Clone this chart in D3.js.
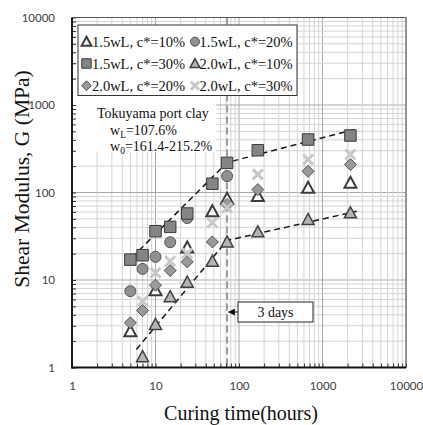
<!DOCTYPE html>
<html>
<head>
<meta charset="utf-8">
<script src="https://cdn.jsdelivr.net/npm/d3@7/dist/d3.min.js"></script>
<style>
  html, body { margin: 0; padding: 0; background: #fff; }
  svg { display: block; }
</style>
</head>
<body>
<svg id="chart" width="423" height="425"></svg>
<script>
// Curing times (hours) at which specimens were tested
const hours = [5, 7, 10, 15, 24, 48, 72, 168, 672, 2160];

// Shear modulus G (MPa) for each mix; null = not tested
const g15wL10 = [2.6, null, 7.65, null, 23.5, 61, 85, 91, 113, 129];
const g15wL20 = [7.45, 13.4, 18.4, 27.0, 51, null, 154, null, null, null];
const g15wL30 = [17.1, 19.2, 36.1, 40.5, 57.5, 126, 218, 304, 403, 448];
const g20wL10 = [null, 1.33, 3.1, 6.43, 9.44, 16.4, 27.2, 35.5, 49.1, 58.6];
const g20wL20 = [3.24, 4.48, 8.73, 12.8, 16.1, 27.2, 73, 108, 175, 209];
const g20wL30 = [null, 5.72, 12.1, 16.4, 20.1, 45.1, 67, 161, 238, 272];

const seriesNames = ["1.5wL, c*=10%", "1.5wL, c*=20%", "1.5wL, c*=30%",
                     "2.0wL, c*=10%", "2.0wL, c*=20%", "2.0wL, c*=30%"];

// Trend lines (bilinear in log-log, break at 3 days)
const upperTrendT = [4.3, 72, 2500];
const upperTrendG = [15.0, 220, 530];
const lowerTrendT = [5.9, 72, 2570];
const lowerTrendG = [1.61, 28.3, 61];

const markLineHours = 72;
const tickValues = [1, 10, 100, 1000, 10000];

const svg = d3.select("#chart");
const L = 72, R = 406, T = 17.5, B = 367.5;

const x = d3.scaleLog().domain([1, 10000]).range([L, R]);
const y = d3.scaleLog().domain([1, 10000]).range([B, T]);

// all 1..9 x 10^n positions
const minorVals = [];
for (let d = 0; d < 4; d++) for (let k = 1; k <= 9; k++) minorVals.push(k * Math.pow(10, d));
minorVals.push(10000);

// grid
const grid = svg.append("g");
minorVals.forEach(v => {
  const major = tickValues.includes(v);
  grid.append("line")
    .attr("x1", x(v)).attr("x2", x(v)).attr("y1", T).attr("y2", B)
    .attr("stroke", major ? "#a8a8a8" : "#d4d4d4").attr("stroke-width", 1);
  grid.append("line")
    .attr("y1", y(v)).attr("y2", y(v)).attr("x1", L).attr("x2", R)
    .attr("stroke", major ? "#a8a8a8" : "#d4d4d4").attr("stroke-width", 1);
});

// backing for the clay description
svg.append("rect").attr("x", L + 1).attr("y", 96).attr("width", 143).attr("height", 56)
  .attr("fill", "#fff");

// 3-day marker line
svg.append("line")
  .attr("x1", x(markLineHours)).attr("x2", x(markLineHours))
  .attr("y1", T).attr("y2", B)
  .attr("stroke", "#8a8a8a").attr("stroke-width", 1.6)
  .attr("stroke-dasharray", "7,4");

// trend lines
const line = d3.line().x(d => x(d[0])).y(d => y(d[1]));
[[upperTrendT, upperTrendG], [lowerTrendT, lowerTrendG]].forEach(([ts, gs]) => {
  svg.append("path")
    .attr("d", line(ts.map((t, i) => [t, gs[i]])))
    .attr("fill", "none").attr("stroke", "#1a1a1a").attr("stroke-width", 1.5)
    .attr("stroke-dasharray", "6,4");
});

// marker shapes
function triPath(s) { const h = s * 0.92; return `M0,${-h*0.55}L${s/2},${h*0.45}L${-s/2},${h*0.45}Z`; }
function sqPath(s) { return `M${-s/2},${-s/2}h${s}v${s}h${-s}Z`; }
function diaPath(s) { const r = s / 2; return `M0,${-r}L${r},0L0,${r}L${-r},0Z`; }
function xPath(s) { const r = s / 2; return `M${-r},${-r}L${r},${r}M${r},${-r}L${-r},${r}`; }

const styles = [
  { shape: "tri", fill: "#ffffff", stroke: "#3c3c3c", sw: 2, size: 12 },
  { shape: "circle", fill: "#909090", stroke: "#555555", sw: 1, size: 11 },
  { shape: "square", fill: "#858585", stroke: "#3a3a3a", sw: 1, size: 11.5 },
  { shape: "tri", fill: "#b4b4b4", stroke: "#404040", sw: 1.5, size: 12 },
  { shape: "diamond", fill: "#9a9a9a", stroke: "#555555", sw: 1, size: 12 },
  { shape: "x", fill: "none", stroke: "#c8c8c8", sw: 3, size: 10 }
];

function drawMarker(g, st, cx, cy, scale) {
  const s = st.size * scale;
  if (st.shape === "circle") {
    g.append("circle").attr("cx", cx).attr("cy", cy).attr("r", s / 2)
      .attr("fill", st.fill).attr("stroke", st.stroke).attr("stroke-width", st.sw);
    return;
  }
  const d = st.shape === "tri" ? triPath(s) : st.shape === "square" ? sqPath(s)
          : st.shape === "diamond" ? diaPath(s) : xPath(s);
  g.append("path").attr("d", d).attr("transform", `translate(${cx},${cy})`)
    .attr("fill", st.fill).attr("stroke", st.stroke).attr("stroke-width", st.sw);
}

const allSeries = [g15wL10, g15wL20, g15wL30, g20wL10, g20wL20, g20wL30];
const marks = svg.append("g");
allSeries.forEach((vals, si) => {
  vals.forEach((v, i) => {
    if (v == null) return;
    drawMarker(marks, styles[si], x(hours[i]), y(v), 1);
  });
});

// axes
const xAxis = d3.axisBottom(x).tickValues(minorVals)
  .tickSizeInner(-4).tickSizeOuter(0).tickPadding(14)
  .tickFormat(d => tickValues.includes(d) ? d3.format("d")(d) : "");
const yAxis = d3.axisLeft(y).tickValues(minorVals)
  .tickSizeInner(-4).tickSizeOuter(0).tickPadding(17)
  .tickFormat(d => tickValues.includes(d) ? d3.format("d")(d) : "");

const gx = svg.append("g").attr("transform", `translate(0,${B})`).call(xAxis);
const gy = svg.append("g").attr("transform", `translate(${L},0)`).call(yAxis);
[gx, gy].forEach(g => {
  g.select(".domain").remove();
  g.selectAll(".tick line").attr("stroke", "#333");
  g.selectAll(".tick text").attr("font-family", "Lato, 'Open Sans', sans-serif")
    .attr("font-size", 11.5).attr("fill", "#404040");
});

// plot frame
svg.append("rect").attr("x", L).attr("y", T).attr("width", R - L).attr("height", B - T)
  .attr("fill", "none").attr("stroke", "#555").attr("stroke-width", 1);
svg.append("line").attr("x1", L).attr("x2", L).attr("y1", T).attr("y2", B + 0.75)
  .attr("stroke", "#111").attr("stroke-width", 1.8);
svg.append("line").attr("x1", L - 0.9).attr("x2", R).attr("y1", B).attr("y2", B)
  .attr("stroke", "#111").attr("stroke-width", 1.8);

// legend
const serif = "'Liberation Serif', 'Times New Roman', serif";
const leg = svg.append("g");
leg.append("rect").attr("x", 78).attr("y", 25).attr("width", 219).attr("height", 70.5)
  .attr("fill", "#fff").attr("stroke", "#333").attr("stroke-width", 1);
const rowsY = [41.7, 63.5, 85.7];
const colMarkX = [86.5, 195];
const colTextX = [92, 199.5];
seriesNames.forEach((name, i) => {
  const row = Math.floor(i / 2), col = i % 2;
  drawMarker(leg, styles[i], colMarkX[col], rowsY[row], 0.82);
  leg.append("text").attr("x", colTextX[col]).attr("y", rowsY[row] + 5)
    .attr("font-family", serif).attr("font-size", 14.5).attr("fill", "#111")
    .text(name);
});

// clay description
const note = svg.append("g").attr("font-family", serif).attr("font-size", 14).attr("fill", "#111");
note.append("text").attr("x", 97).attr("y", 118).text("Tokuyama port clay");
const t2 = note.append("text").attr("x", 110).attr("y", 135);
t2.append("tspan").text("w");
t2.append("tspan").attr("font-size", 9.5).attr("dy", 3).text("L");
t2.append("tspan").attr("dy", -3).text("=107.6%");
const t3 = note.append("text").attr("x", 110).attr("y", 151);
t3.append("tspan").text("w");
t3.append("tspan").attr("font-size", 9.5).attr("dy", 3).text("0");
t3.append("tspan").attr("dy", -3).text("=161.4-215.2%");

// "3 days" callout
svg.append("defs").append("marker").attr("id", "arrowhead")
  .attr("viewBox", "0 0 10 10").attr("refX", 9).attr("refY", 5)
  .attr("markerWidth", 7).attr("markerHeight", 7).attr("orient", "auto")
  .append("path").attr("d", "M0,0L10,5L0,10Z").attr("fill", "#111");
svg.append("rect").attr("x", 238).attr("y", 302).attr("width", 75).attr("height", 20)
  .attr("fill", "#fff").attr("stroke", "#222").attr("stroke-width", 1);
svg.append("line").attr("x1", 238).attr("x2", x(markLineHours) + 1.5).attr("y1", 312).attr("y2", 312)
  .attr("stroke", "#111").attr("stroke-width", 1).attr("marker-end", "url(#arrowhead)");
svg.append("text").attr("x", 275.5).attr("y", 317).attr("text-anchor", "middle")
  .attr("font-family", serif).attr("font-size", 14).attr("fill", "#111").text("3 days");

// axis titles
svg.append("text").attr("x", 241).attr("y", 420).attr("text-anchor", "middle")
  .attr("font-family", serif).attr("font-size", 20).attr("fill", "#111")
  .text("Curing time(hours)");
svg.append("text").attr("transform", "translate(29,179) rotate(-90)").attr("text-anchor", "middle")
  .attr("font-family", serif).attr("font-size", 21.5).attr("fill", "#111")
  .text("Shear Modulus, G (MPa)");
</script>
</body>
</html>
